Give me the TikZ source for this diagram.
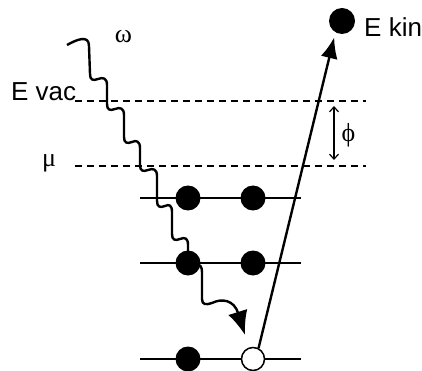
\documentclass[tikz,border=0pt]{standalone}
\usepackage{fontspec}
\setmainfont{Liberation Sans}
\newfontfamily\greekfont{Liberation Serif}
\usetikzlibrary{arrows.meta}
\begin{document}
\begin{tikzpicture}[x=1pt,y=-1pt,
  lbl/.style={inner sep=0pt,font=\fontsize{26}{30}\selectfont},
  glbl/.style={inner sep=0pt,font=\fontsize{26}{30}\selectfont\greekfont},
  level/.style={line width=1.6pt},
  vaclevel/.style={line width=1.2pt,dash pattern=on 7pt off 5pt},
  electron/.style={circle,fill=black,minimum size=25pt,inner sep=0pt},
  hole/.style={circle,draw=black,fill=white,line width=1.5pt,minimum size=23pt,inner sep=0pt},
  wave/.style={line width=2.4pt,line join=round},
  wavetip/.style={line width=2.4pt,-{Latex[length=24pt,width=20pt]}},
  photo/.style={line width=2.4pt,-{Latex[length=21pt,width=17pt]}},
  gap/.style={line width=1.2pt,{Straight Barb[length=5pt,width=9pt]}-{Straight Barb[length=5pt,width=9pt]}}]
\useasboundingbox (0,0) rectangle (422,371);

% dashed levels
\coordinate (vacL) at (75,101);
\coordinate (vacR) at (366,101);
\coordinate (muL) at (75,166);
\coordinate (muR) at (366,166);
\draw[vaclevel] (vacL) -- (vacR);
\draw[vaclevel] (muL) -- (muR);

% solid levels
\coordinate (l1L) at (140,198); \coordinate (l1R) at (301,198);
\coordinate (l2L) at (140,263); \coordinate (l2R) at (301,263);
\coordinate (l3L) at (140,359); \coordinate (l3R) at (301,359);
\draw[level] (l1L) -- (l1R);
\draw[level] (l2L) -- (l2R);
\draw[level] (l3L) -- (l3R);

% photon wave
\coordinate (wstart) at (67,45);
\draw[wave] (wstart) .. controls (76,40) and (89,34) .. (89,46) -- (90,74)
  .. controls (90,80) and (93,81) .. (98,79) .. controls (103,77) and (107,78) .. (107,85)
  -- (107,104) .. controls (107,110) and (110,111) .. (115,109) .. controls (120,107) and (124,108) .. (124,115)
  -- (124,137) .. controls (124,143) and (127,144) .. (132,142) .. controls (136,140) and (140,141) .. (140,148)
  -- (140,165) .. controls (140,171) and (143,172) .. (148,170) .. controls (153,168) and (157,169) .. (157,176)
  -- (157,201) .. controls (157,207) and (160,208) .. (165,206) .. controls (169,204) and (172,205) .. (172,212)
  -- (172,234) .. controls (172,240) and (175,241) .. (180,239) .. controls (185,237) and (188,238) .. (188,245)
  -- (188,262);
\draw[wavetip] (188,262) .. controls (195,264) and (202,262) .. (202,272) -- (202,299)
  .. controls (202,305) and (206,305) .. (212,303) .. controls (222,298) and (234,300) .. (245,335);

% electrons
\node[electron] (e1a) at (188,198) {};
\node[electron] (e1b) at (253,198) {};
\node[electron] (e2a) at (188,263) {};
\node[electron] (e2b) at (253,263) {};
\node[electron] (e3a) at (188,359) {};
\node[hole] (h3) at (253,359) {};
\node[electron,minimum size=26pt] (ek) at (342,21) {};

% emitted electron arrow
\draw[photo,shorten >=5pt] (h3.63) -- (ek.240);

% work function
\coordinate (phitop) at (334,106);
\coordinate (phibot) at (334,160);
\draw[gap] (phitop) -- (phibot);

% labels
\node[glbl,anchor=center] (omega) at (123.5,37) {ω};
\node[lbl,anchor=base west] (evac) at (11,101) {E vac};
\node[glbl,anchor=base west] (mu) at (42,167) {μ};
\node[glbl,anchor=center] (phi) at (348.5,135.5) {ϕ};
\node[lbl,anchor=base west] (ekin) at (364,37) {E kin};
\end{tikzpicture}
\end{document}
